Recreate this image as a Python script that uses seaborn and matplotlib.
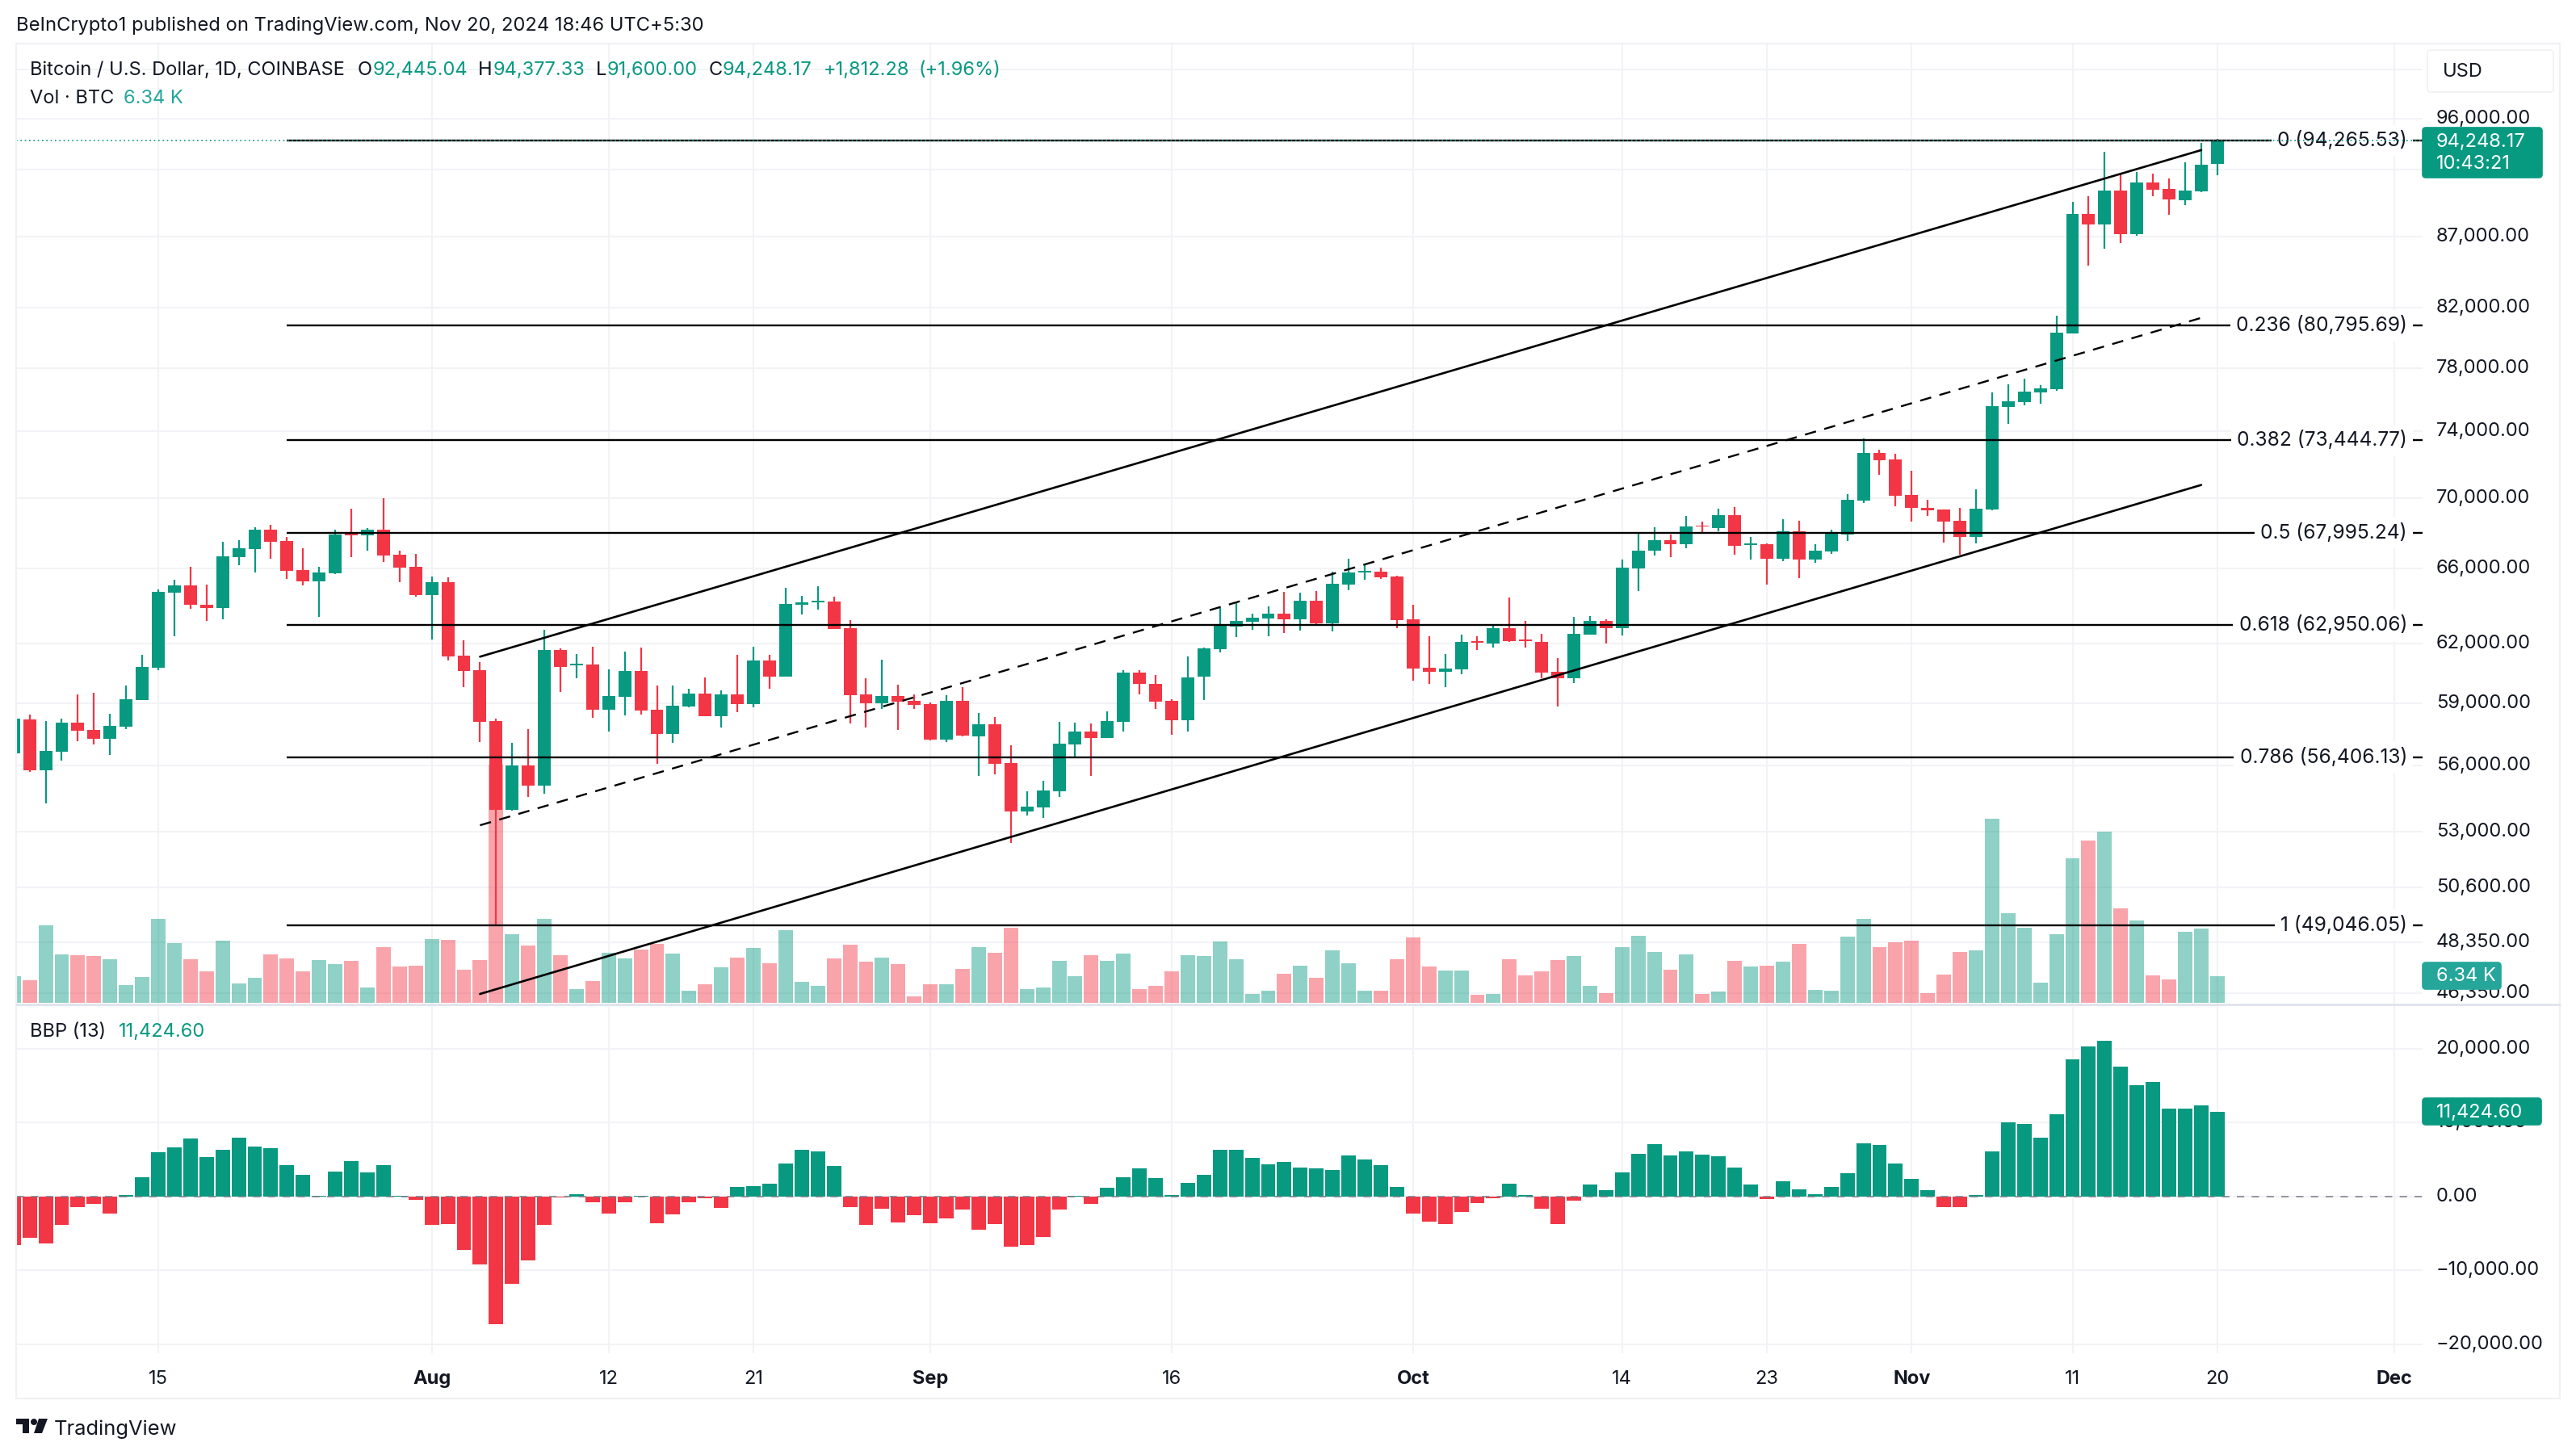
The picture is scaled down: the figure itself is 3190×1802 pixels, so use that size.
import numpy as np
import pandas as pd
import seaborn as sns
import matplotlib.pyplot as plt
from matplotlib.patches import FancyBboxPatch, Polygon, Circle, Rectangle
from matplotlib.ticker import NullLocator

sns.set_style('white')
plt.rcParams['font.family'] = ['Inter', 'DejaVu Sans']

# day 0 is Jul 15 2024, one candle per day up to Nov 20
days = list(range(-9, 129))

opens = [56586, 58192, 55789, 56662, 58034, 57683, 57275, 57836, 59154, 60767,
         64670, 65063, 64057, 63885, 66610, 67061, 68146, 67513, 65895, 65282,
         65720, 67920, 67830, 68191, 66745, 66113, 64537, 65238, 61366, 60630,
         58113, 53970, 56002, 55074, 61653, 60876, 60917, 58666, 59299, 60590,
         58666, 57492, 58825, 59457, 58350, 59418, 58943, 61121, 60304, 64029,
         64145, 64189, 62787, 59418, 58983, 59338, 59101, 58943, 57225, 59101,
         57377, 57955, 56116, 53898, 54077, 54816, 56995, 57607, 57301, 58073,
         60508, 59936, 59101, 58152, 60304, 61693, 62872, 63125, 63294, 63548,
         63252, 64232, 63041, 65107, 65778, 65807, 65544, 63252, 60753, 60548,
         60671, 62111, 61985, 62787, 62192, 62070, 60548, 60222, 62450, 63167,
         62787, 65982, 66971, 67558, 67332, 68417, 68281, 68978, 67302, 67332,
         66519, 68100, 66474, 66926, 67874, 69820, 72690, 72255, 70148, 69400,
         69305, 68698, 67740, 69305, 75525, 75825, 76440, 76626, 80293, 88680,
         87920, 90440, 87190, 91000, 90560, 89700, 90365, 92445]
highs = [58230, 58429, 58139, 58257, 59444, 59496, 58495, 59854, 61407, 64873,
         65370, 66113, 65107, 67468, 67590, 68327, 68463, 67740, 67106, 66113,
         68191, 69352, 68280, 69960, 66970, 66790, 65545, 65500, 62153, 61040,
         58257, 57071, 57720, 62702, 61734, 61448, 61816, 60672, 61570, 61775,
         59854, 59854, 59694, 60263, 59615, 61407, 61816, 61407, 64932, 64494,
         65020, 64450, 63210, 60222, 61162, 59895, 59418, 59022, 59378, 59773,
         58508, 58311, 56957, 54816, 55297, 58073, 58034, 57994, 58587, 60630,
         60630, 60385, 59180, 61325, 61775, 63843, 64101, 63548, 63970, 64713,
         64669, 64756, 65807, 66519, 66245, 66026, 65588, 64057, 62365, 61448,
         62450, 62365, 62956, 64407, 63167, 62492, 61244, 63379, 63421, 63252,
         66474, 67920, 68327, 67874, 68932, 68651, 69353, 69447, 67739, 67377,
         68745, 68698, 67332, 68191, 70195, 73570, 72883, 72641, 71578, 69867,
         69305, 69400, 70522, 76440, 76950, 77290, 76890, 81470, 89580, 90000,
         93390, 91780, 91840, 91720, 91360, 92560, 94050, 94377]
lows = [56586, 55703, 54262, 56231, 57160, 56994, 56497, 57734, 59154, 60630,
        62365, 63800, 63167, 63251, 66200, 65763, 66520, 65413, 65063, 63378,
        65676, 66610, 66970, 66338, 65238, 64450, 62195, 61120, 59774, 57109,
        49046, 53935, 54557, 54705, 59536, 60222, 58270, 57606, 58390, 58429,
        56078, 57072, 58785, 58350, 57798, 58548, 58785, 59694, 60304, 63506,
        63759, 62745, 57994, 57798, 58706, 57683, 58706, 57200, 57110, 57377,
        55518, 55592, 52504, 53720, 53613, 54557, 56345, 55518, 57301, 57607,
        59418, 58706, 57454, 57607, 59141, 61530, 62323, 62703, 62365, 62534,
        62660, 62914, 62618, 64800, 65369, 65428, 62787, 60099, 59936, 59773,
        60426, 61653, 61775, 62070, 61775, 60222, 58824, 59977, 62450, 61985,
        62407, 64756, 66700, 66609, 67106, 67965, 68055, 66745, 66474, 65107,
        66383, 65457, 66293, 66790, 67513, 69680, 71336, 69493, 68651, 68932,
        67423, 66745, 67378, 69290, 74440, 75600, 75700, 76550, 80250, 84960,
        86160, 86570, 87050, 90000, 88630, 89300, 90300, 91600]
closes = [58230, 55789, 56688, 58034, 57645, 57275, 57875, 59180, 60795, 64713,
          65063, 64028, 63885, 66655, 67106, 68146, 67468, 65851, 65282, 65763,
          67875, 67830, 68191, 66700, 66070, 64537, 65238, 61325, 60590, 58073,
          53970, 56002, 55074, 61653, 60795, 60957, 58666, 59338, 60590, 58627,
          57492, 58864, 59457, 58350, 59418, 58943, 61121, 60304, 64058, 64145,
          64232, 62745, 59378, 58983, 59338, 59061, 58904, 57225, 59101, 57416,
          57955, 56078, 53898, 54114, 54853, 57033, 57607, 57301, 58113, 60508,
          59936, 59061, 58152, 60263, 61734, 62914, 63167, 63336, 63548, 63252,
          64232, 63041, 65151, 65763, 65851, 65500, 63210, 60712, 60548, 60712,
          62070, 62041, 62787, 62111, 62111, 60507, 60222, 62492, 63167, 62787,
          66026, 66971, 67558, 67332, 68372, 68342, 68978, 67242, 67377, 66519,
          68100, 66474, 66971, 67920, 69867, 72690, 72206, 70101, 69400, 69275,
          68650, 67740, 69350, 75575, 75875, 76480, 76660, 80347, 88680, 87920,
          90440, 87190, 91000, 90500, 89760, 90440, 92400, 94248]
# volume in thousands of BTC
volume = [6.4, 5.4, 18.5, 11.5, 11.3, 11.2, 10.4, 4.2, 6.2, 20,
          14.2, 10.4, 7.5, 14.8, 4.6, 5.9, 11.5, 10.6, 7.5, 10.2,
          9.2, 10, 3.6, 13.2, 8.7, 8.8, 15.2, 15, 7.9, 10.2,
          56.7, 16.3, 13.6, 20, 11.3, 3.3, 5.2, 11.9, 10.6, 12.7,
          14, 11.8, 2.8, 4.4, 8.4, 10.7, 13, 9.4, 17.3, 5,
          4, 10.6, 13.8, 9.8, 10.7, 9.2, 1.5, 4.4, 4.4, 8.1,
          13.2, 11.9, 17.9, 3.3, 3.6, 10, 6.4, 11.3, 10, 11.8,
          3.3, 4, 7.5, 11.3, 11.2, 14.6, 10.4, 2.1, 2.9, 7,
          8.8, 5.9, 12.5, 9.4, 2.9, 2.9, 10.4, 15.5, 8.7, 7.7,
          7.7, 1.9, 2.1, 10.4, 6.5, 7.5, 10.2, 11.2, 4, 2.3,
          13.2, 16, 12.1, 7.9, 11.5, 2.1, 2.7, 10, 8.6, 8.9,
          9.8, 14.1, 3.1, 2.9, 15.8, 20, 13.3, 14.5, 14.8, 2.3,
          6.8, 12.2, 12.5, 43.9, 21.4, 17.9, 4.8, 16.4, 34.5, 38.7,
          40.8, 22.5, 19.7, 6.6, 5.6, 17, 17.7, 6.34]
# bull bear power, thousands of USD
bbp = [-6.6, -5.6, -6.4, -3.9, -1.5, -1.0, -2.3, 0.2, 2.6, 6.0,
       6.6, 7.8, 5.3, 6.3, 8.0, 6.8, 6.5, 4.2, 2.9, 0.1,
       3.4, 4.8, 3.3, 4.2, 0.1, -0.5, -3.9, -3.8, -7.2, -9.2,
       -17.3, -11.8, -8.7, -3.9, -0.1, 0.3, -0.8, -2.3, -0.8, 0.1,
       -3.6, -2.4, -0.8, -0.2, -1.6, 1.3, 1.4, 1.7, 4.5, 6.3,
       6.1, 4.1, -1.5, -3.9, -1.7, -3.5, -2.5, -3.6, -3.0, -1.8,
       -4.5, -3.7, -6.8, -6.6, -5.5, -1.8, 0.1, -1.0, 1.2, 2.6,
       3.8, 2.5, 0.2, 1.8, 2.9, 6.3, 6.3, 5.2, 4.3, 4.7,
       3.9, 3.8, 3.6, 5.5, 5.0, 4.2, 1.3, -2.3, -3.4, -3.8,
       -2.1, -0.9, -0.2, 1.7, 0.2, -1.7, -3.7, -0.6, 1.6, 0.8,
       3.3, 5.8, 7.1, 5.5, 6.1, 5.7, 5.4, 3.9, 1.6, -0.4,
       2.0, 0.9, 0.3, 1.3, 3.1, 7.2, 7.0, 4.4, 2.4, 0.8,
       -1.4, -1.5, 0.2, 6.1, 10.0, 9.8, 8.0, 11.1, 18.6, 20.3,
       21.1, 17.6, 15.1, 15.5, 11.9, 11.9, 12.3, 11.42]

fib_levels = [94265.53, 80795.69, 73444.77, 67995.24, 62950.06, 56406.13, 49046.05]
fib_labels = ['0 (94,265.53)', '0.236 (80,795.69)', '0.382 (73,444.77)', '0.5 (67,995.24)',
              '0.618 (62,950.06)', '0.786 (56,406.13)', '1 (49,046.05)']
fib_start = 8

# channel lines: start and end day, start and end price
channel_days = [20, 127]
channel_upper = [61325, 93516]
channel_mid = [53292, 81322]
channel_lower = [46307, 70756]

price_ticks = [100000, 96000, 92000, 87000, 82000, 78000, 74000, 70000, 66000, 62000,
               59000, 56000, 53000, 50600, 48350, 46350]
# 100,000 and 92,000 keep their grid line, their labels sit behind the USD and price boxes
hidden_ticks = [100000, 92000]
bbp_ticks = [20000, 10000, 0, -10000, -20000]
bbp_tick_labels = ['20,000.00', '10,000.00', '0.00', '\u221210,000.00', '\u221220,000.00']
date_ticks = [0, 17, 28, 37, 48, 63, 78, 91, 100, 109, 119, 128, 139]
date_labels = ['15', 'Aug', '12', '21', 'Sep', '16', 'Oct', '14', '23', 'Nov', '11', '20', 'Dec']
last_price = 94248.17

UP = '#089981'
DOWN = '#F23645'
TEXT = '#131722'
GRID = '#f2f3f6'
W, H = 3190, 1802
FS = 17

df = pd.DataFrame({'day': days, 'open': opens, 'high': highs, 'low': lows, 'close': closes,
                   'volume': volume, 'bbp': np.array(bbp) * 1000})
df['dir'] = np.where(df['close'] >= df['open'], 'up', 'down')
df['bbp_dir'] = np.where(df['bbp'] >= 0, 'up', 'down')
palette = {'up': UP, 'down': DOWN}
xlim = (-8.835, 140.76)
ylim = (45935, 102190)


def pane(top, bottom, zorder):
    # axes placed by pixel rows of the picture
    a = fig.add_axes([20 / W, 1 - bottom / H, 2980 / W, (bottom - top) / H], zorder=zorder)
    return a


fig = plt.figure(figsize=(W / 100, H / 100), dpi=100, facecolor='white')

# price grid and scale at the back, then volume, then candles
ax_grid = pane(54, 1243, 0)
ax_grid.set_yscale('log')
ax_grid.set_xlim(xlim)
ax_grid.set_ylim(ylim)
ax_grid.yaxis.tick_right()
ax_grid.set_yticks(price_ticks)
ax_grid.set_yticklabels(['' if t in hidden_ticks else '{:,.2f}'.format(t) for t in price_ticks])
ax_grid.yaxis.set_minor_locator(NullLocator())
ax_grid.set_xticks(date_ticks)
ax_grid.tick_params(axis='y', length=0, pad=12, labelsize=FS, labelcolor=TEXT)
ax_grid.tick_params(axis='x', length=0, labelbottom=False)
ax_grid.grid(True, color=GRID, linewidth=1.5)

ax_vol = pane(54, 1242, 1)
ax_vol.patch.set_alpha(0)
sns.barplot(data=df, x='day', y='volume', hue='dir', palette=palette, hue_order=['up', 'down'],
            native_scale=True, dodge=False, width=0.9, saturation=1, alpha=0.45, linewidth=0,
            errorbar=None, legend=False, ax=ax_vol)
ax_vol.set_xlim(xlim)
ax_vol.set_ylim(0, 1188 / 5.2)
ax_vol.set(xlabel='', ylabel='', xticks=[], yticks=[])

ax = pane(54, 1243, 2)
ax.patch.set_alpha(0)
ax.set_yscale('log')
ax.vlines(df['day'], df['low'], df['high'], colors=df['dir'].map(palette), linewidth=1.6, zorder=3)
ax.bar(df['day'], (df['close'] - df['open']).abs(), bottom=df[['open', 'close']].min(axis=1),
       width=0.8, color=df['dir'].map(palette), linewidth=0, zorder=3)
ax.hlines(fib_levels, fib_start, xlim[1], colors='black', linewidth=1.7, zorder=4)
for level, label in zip(fib_levels, fib_labels):
    ax.text(139.8, level, label, ha='right', va='center', fontsize=17.7, color=TEXT, zorder=5,
            bbox=dict(fc='white', ec='none', boxstyle='square,pad=0.3'))
sns.lineplot(x=channel_days, y=channel_upper, color='black', linewidth=1.9, ax=ax, zorder=4)
sns.lineplot(x=channel_days, y=channel_lower, color='black', linewidth=1.9, ax=ax, zorder=4)
sns.lineplot(x=channel_days, y=channel_mid, color='black', linewidth=1.7, ax=ax, zorder=4,
             linestyle=(0, (6, 4.5)))
ax.axhline(last_price, color=UP, linewidth=1.2, linestyle=(0, (1, 2.2)), zorder=6)
ax.set_xlim(xlim)
ax.set_ylim(ylim)
ax.set(xlabel='', ylabel='', xticks=[], yticks=[])
ax.yaxis.set_minor_locator(NullLocator())

ax_bbp = pane(1244, 1676, 2)
sns.barplot(data=df, x='day', y='bbp', hue='bbp_dir', palette=palette, hue_order=['up', 'down'],
            native_scale=True, dodge=False, width=0.9, saturation=1, linewidth=0,
            errorbar=None, legend=False, ax=ax_bbp)
ax_bbp.axhline(0, color='#787b86', linewidth=1.1, linestyle=(0, (6, 6)), zorder=5)
ax_bbp.set_xlim(xlim)
ax_bbp.set_ylim(-21250, 26000)
ax_bbp.yaxis.tick_right()
ax_bbp.set_yticks(bbp_ticks)
ax_bbp.set_yticklabels(bbp_tick_labels)
ax_bbp.set_xticks(date_ticks)
ax_bbp.set_xticklabels(date_labels)
for tick, label in zip(ax_bbp.get_xticklabels(), date_labels):
    if label.isalpha():
        tick.set_fontweight('bold')
ax_bbp.tick_params(axis='y', length=0, pad=12, labelsize=FS, labelcolor=TEXT)
ax_bbp.tick_params(axis='x', length=0, pad=15, labelsize=FS, labelcolor=TEXT)
ax_bbp.grid(True, color=GRID, linewidth=1.5)
ax_bbp.set_axisbelow(True)
ax_bbp.set(xlabel='', ylabel='')

for a in [ax_grid, ax_vol, ax, ax_bbp]:
    sns.despine(ax=a, left=True, bottom=True, right=True, top=True)
for a in [ax_grid, ax_bbp]:
    for tick in a.get_yticklabels():
        tick.set_verticalalignment('center')

# overlay in picture pixels for the frame, value labels and headers
top = fig.add_axes([0, 0, 1, 1], zorder=10)
top.set_xlim(0, W)
top.set_ylim(H, 0)
top.axis('off')
top.patch.set_alpha(0)


def label_box(x0, y0, x1, y1, color, fc_ec=None):
    top.add_patch(FancyBboxPatch((x0, y0), x1 - x0, y1 - y0, boxstyle='round,pad=0,rounding_size=4',
                                 fc=color, ec=fc_ec or color, linewidth=1.2))


top.add_patch(Rectangle((20, 54), 3150, 1678, fc='none', ec='#f0f1f4', linewidth=1.6))
top.plot([20, 3170], [1243.5, 1243.5], color='#e0e3eb', linewidth=2)
label_box(3006, 62, 3162, 114, 'white', '#f0f1f4')
top.text(3025, 89, 'USD', fontsize=FS, color=TEXT, va='center')
label_box(3000, 158, 3148, 220, UP)
top.text(3017, 176, '94,248.17', fontsize=FS, color='white', va='center')
top.text(3017, 203, '10:43:21', fontsize=FS, color='white', va='center')
label_box(3000, 1192, 3097, 1225, '#26a69a')
top.text(3017, 1209, '6.34 K', fontsize=FS, color='white', va='center')
label_box(3000, 1360, 3147, 1393, UP)
top.text(3017, 1378, '11,424.60', fontsize=FS, color='white', va='center')

top.text(20, 32, 'BeInCrypto1 published on TradingView.com, Nov 20, 2024 18:46 UTC+5:30',
         fontsize=17.1, color=TEXT, va='center')
header = [(37, 'Bitcoin / U.S. Dollar, 1D, COINBASE', TEXT), (443, 'O', TEXT), (462, '92,445.04', UP),
          (592, 'H', TEXT), (611, '94,377.33', UP), (738, 'L', TEXT), (752, '91,600.00', UP),
          (878, 'C', TEXT), (895, '94,248.17', UP), (1020, '+1,812.28', UP), (1137, '(+1.96%)', UP)]
for x, s, c in header:
    top.text(x, 87, s, fontsize=FS, color=c, va='center')
top.text(37, 122, 'Vol \u00b7 BTC', fontsize=FS, color=TEXT, va='center')
top.text(153, 122, '6.34 K', fontsize=FS, color='#26a69a', va='center')
top.text(37, 1278, 'BBP (13)', fontsize=FS, color=TEXT, va='center')
top.text(147, 1278, '11,424.60', fontsize=FS, color=UP, va='center')

# TradingView mark
top.add_patch(Polygon([(20, 1757), (36, 1757), (36, 1775), (28, 1775), (28, 1764), (20, 1764)], fc=TEXT, ec='none'))
top.add_patch(Circle((42, 1761), 4, fc=TEXT, ec='none'))
top.add_patch(Polygon([(48, 1757), (59, 1757), (52, 1775), (42, 1775)], fc=TEXT, ec='none'))
top.text(67, 1777, 'TradingView', fontsize=18.4, color=TEXT, va='baseline')

fig.savefig('out.png', dpi=100, facecolor='white')
